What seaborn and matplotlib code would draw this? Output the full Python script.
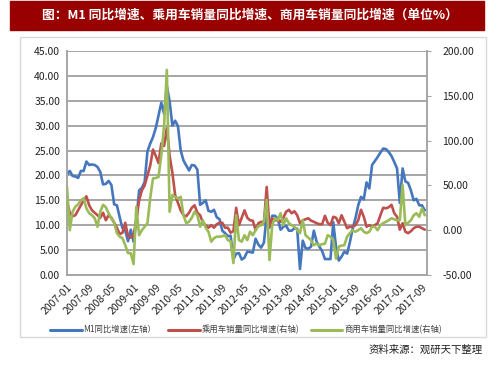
import numpy as np
import pandas as pd
import matplotlib
matplotlib.use("Agg")
import matplotlib.pyplot as plt
from matplotlib.patches import Rectangle
import seaborn as sns

# 月份标签 (2007-01 ~ 2017-10)
months = [f"{y}-{m:02d}" for y in range(2007, 2018) for m in range(1, 13)][:130]
tick_labels = ["2007-01", "2007-09", "2008-05", "2009-01", "2009-09", "2010-05",
               "2011-01", "2011-09", "2012-05", "2013-01", "2013-09", "2014-05",
               "2015-01", "2015-09", "2016-05", "2017-01", "2017-09"]

# M1 同比增速 (左轴, %)
m1 = [20.2, 20.9, 19.9, 19.8, 19.5, 20.9, 20.9, 22.8, 22.1, 22.2, 22.1, 21.7,
      20.7, 18.2, 18.3, 18.9, 18.1, 14.2, 14.0, 11.6, 9.4, 8.9, 6.8, 9.1,
      6.7, 10.9, 17.0, 17.5, 18.7, 24.8, 26.4, 27.7, 29.5, 32.0, 34.6, 32.4,
      38.0, 34.9, 30.0, 31.0, 29.9, 25.0, 23.0, 22.0, 21.0, 22.1, 22.0, 21.2,
      14.1, 14.5, 15.0, 12.9, 12.7, 13.1, 11.6, 11.2, 8.9, 8.4, 7.8, 7.9,
      3.1, 4.3, 4.4, 3.1, 3.5, 4.7, 4.6, 4.5, 7.3, 6.1, 5.5, 6.5,
      12.0, 9.5, 11.9, 11.9, 11.3, 9.1, 9.7, 9.9, 8.9, 8.9, 9.4, 9.3,
      1.2, 6.9, 5.4, 5.3, 5.7, 8.9, 6.7, 5.7, 4.8, 3.2, 3.2, 3.2,
      10.6, 5.6, 2.9, 3.7, 4.7, 4.3, 6.6, 9.3, 11.4, 14.0, 15.7, 15.2,
      18.6, 17.4, 22.1, 22.9, 23.7, 24.6, 25.4, 25.3, 24.7, 23.9, 22.7, 21.4,
      14.5, 21.4, 18.8, 18.5, 17.0, 15.0, 15.3, 14.0, 14.0, 13.0]

# 乘用车销量同比增速 (右轴, %)
car = [32.2, 19.5, 15.6, 16.7, 22.2, 27.8, 33.3, 37.8, 27.8, 22.2, 19.5, 16.7,
       13.9, 19.5, 11.1, 16.7, 13.9, 8.3, 2.8, -4.4, -2.8, 8.3, -6.7, -8.3,
       -5.6, 11.1, 33.3, 44.5, 50.0, 61.0, 72.0, 90.0, 83.0, 75.0, 97.0, 94.0,
       114.0, 83.0, 64.0, 39.0, 30.6, 22.0, 16.7, 15.6, 19.5, 25.0, 27.8, 19.5,
       16.7, 8.3, 5.6, 2.8, 5.6, 2.8, 6.7, 8.3, 8.3, 2.8, 2.8, -2.8,
       -1.0, 25.0, 5.6, 13.9, 22.2, 13.9, 11.1, 10.6, 0.0, 7.8, 9.4, 8.3,
       48.3, 3.9, 13.3, 11.1, 11.1, 9.4, 13.9, 20.6, 22.8, 18.9, 21.1, 16.7,
       7.8, 11.1, 12.2, 13.3, 10.6, 9.4, 7.8, 6.7, 6.7, 16.1, 8.3, 5.6,
       15.0, 13.9, 7.8, 16.7, 9.4, 2.2, 3.9, 3.9, 5.6, 11.1, 22.8, 15.0,
       3.9, 5.6, 3.9, 5.6, 7.8, 16.7, 25.0, 24.4, 25.6, 28.3, 18.9, 15.0,
       0.6, 7.8, -1.7, -3.3, -1.1, 2.2, 3.9, 3.9, 2.2, 0.6]

# 商用车销量同比增速 (右轴, %)
truck = [48.3, 0.0, 20.6, 26.1, 28.9, 33.3, 35.6, 24.4, 18.9, 16.7, 13.3, 3.9,
         20.6, 28.3, 25.6, 18.9, 13.3, 8.3, -3.3, -7.2, -8.9, -16.7, -25.6, -25.6,
         -37.8, 26.1, -5.6, 0.0, 3.9, 7.8, 35.6, 57.8, 58.3, 59.4, 83.9, 116.7,
         178.9, 20.6, 39.4, 36.7, 35.6, 37.2, 16.7, 7.8, 9.4, 13.9, 20.6, 16.7,
         3.9, 11.1, 2.8, -1.7, -12.8, -8.9, -7.2, -7.2, -6.7, -5.6, -11.1, -12.2,
         -36.7, 16.7, -11.1, -12.8, -5.6, -11.1, -1.7, -5.6, 0.0, 4.4, 5.6, 9.4,
         33.9, -33.3, 5.6, 13.3, 11.1, 18.9, 5.6, 13.3, 7.8, 5.6, 3.9, 0.0,
         -3.3, 11.1, -5.6, -8.3, -11.1, -16.7, -15.0, -16.7, -15.6, -15.0, -5.6, -7.2,
         -11.1, -31.7, -18.3, -17.2, -16.7, -7.2, -3.3, 0.0, -1.7, 0.0, 2.2, -1.7,
         -3.3, -1.7, 3.9, 3.9, 0.0, 5.6, 7.8, 9.4, 11.1, 13.3, 12.2, 11.1,
         11.1, 50.6, 5.6, 8.3, 11.1, 16.7, 18.9, 15.0, 24.4, 16.7]

df = pd.DataFrame({"month": months, "m1": m1, "car": car, "truck": truck})
df["idx"] = np.arange(len(df))

sns.set_style("white")
plt.rcParams["font.family"] = ["Noto Sans CJK SC", "DejaVu Sans"]
plt.rcParams["axes.unicode_minus"] = False

fig = plt.figure(figsize=(5.03, 3.78), dpi=100)

# 标题栏
fig.patches.append(Rectangle((10 / 503, 1 - 30 / 378), 474 / 503, 29 / 378,
                             transform=fig.transFigure, color="#990000", zorder=0))
fig.text(250 / 503, 1 - 15 / 378, "图：M1 同比增速、乘用车销量同比增速、商用车销量同比增速（单位%）",
         color="white", fontsize=9.2, fontweight="bold", ha="center", va="center")
# 图表外框
fig.patches.append(Rectangle((20 / 503, 1 - 337 / 378), 466 / 503, 300 / 378,
                             transform=fig.transFigure, fill=False,
                             edgecolor="#D9D9D9", lw=1, zorder=0))

ax = fig.add_axes([67 / 503, 1 - 275 / 378, 360 / 503, 224 / 378])
ax2 = ax.twinx()

c_blue, c_red, c_green = "#4677BE", "#C0504D", "#9BBB59"
lw = 1.9
sns.lineplot(data=df, x="idx", y="car", ax=ax2, color=c_red, lw=lw, zorder=3)
sns.lineplot(data=df, x="idx", y="truck", ax=ax2, color=c_green, lw=lw, zorder=4)
sns.lineplot(data=df, x="idx", y="m1", ax=ax, color=c_blue, lw=lw, zorder=3)

# 蓝线在左轴, 需要放到最上层? 参考图中绿线在上
ax.set_zorder(1)
ax2.set_zorder(2)
ax.patch.set_visible(False)
ax2.patch.set_visible(False)

ax.set_xlim(0, 129.8)
ax.set_ylim(0, 45)
ax2.set_ylim(-50, 200)
ax.set_yticks(np.arange(0, 46, 5))
ax.set_yticklabels([f"{v:.2f}" for v in np.arange(0, 46, 5)])
ax2.set_yticks(np.arange(-50, 201, 50))
ax2.set_yticklabels([f"{v:.2f}" for v in np.arange(-50, 201, 50)])

tick_pos = [months.index(t) for t in tick_labels]
ax.set_xticks(tick_pos)
ax.set_xticklabels(tick_labels, rotation=45, ha="right", rotation_mode="anchor")

ax.grid(axis="y", color="#A6A6A6", lw=1.4)
ax.set_axisbelow(True)
ax.set_xlabel("")
ax.set_ylabel("")
ax2.set_ylabel("")

for a in (ax, ax2):
    for s in a.spines.values():
        s.set_color("#A6A6A6")
        s.set_linewidth(1.2)
    a.spines["top"].set_visible(False)
ax.tick_params(axis="y", length=0, labelsize=7.5, colors="#222222", pad=5)
ax.tick_params(axis="x", length=3, color="#A6A6A6", labelsize=7.5,
               labelcolor="#222222", pad=2)
ax2.tick_params(axis="y", length=3, color="#A6A6A6", labelsize=7.5,
                labelcolor="#222222", pad=8)

handles = [plt.Line2D([], [], color=c_blue, lw=2.2),
           plt.Line2D([], [], color=c_red, lw=2.2),
           plt.Line2D([], [], color=c_green, lw=2.2)]
labels = ["M1同比增速(左轴）", "乘用车销量同比增速(右轴)", "商用车销量同比增速(右轴)"]
fig.legend(handles, labels, loc="center", bbox_to_anchor=(246 / 503, 1 - 330 / 378),
           ncol=3, frameon=False, fontsize=6, handlelength=3.8,
           handletextpad=0.2, columnspacing=1.4, labelcolor="#404040")

fig.text(483 / 503, 1 - 350 / 378, "资料来源：观研天下整理", fontsize=7.5,
         ha="right", va="center", color="#222222")

fig.savefig("out.png", dpi=100)
